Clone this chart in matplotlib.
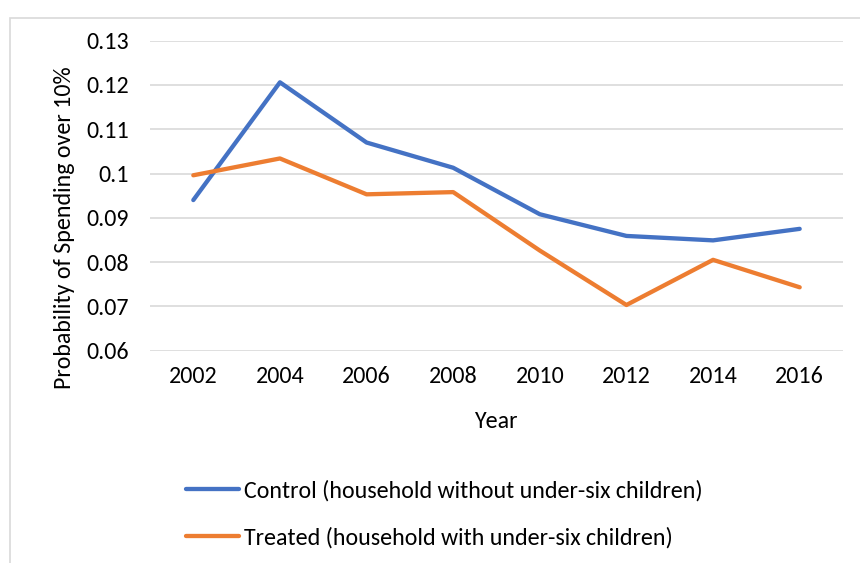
import matplotlib
matplotlib.use("Agg")
import matplotlib.pyplot as plt
from matplotlib import font_manager
from matplotlib.patches import Rectangle

years = ["2002", "2004", "2006", "2008", "2010", "2012", "2014", "2016"]
control = [0.0940, 0.1206, 0.1070, 0.1013, 0.0908, 0.0859, 0.0849, 0.0875]
treated = [0.0996, 0.1034, 0.0953, 0.0958, 0.0826, 0.0703, 0.0805, 0.0743]
y_ticks = [0.06, 0.07, 0.08, 0.09, 0.10, 0.11, 0.12, 0.13]
y_tick_labels = ["0.06", "0.07", "0.08", "0.09", "0.1", "0.11", "0.12", "0.13"]

available = {f.name for f in font_manager.fontManager.ttflist}
family = "Carlito" if "Carlito" in available else "Lato"
plt.rcParams["font.family"] = [family, "DejaVu Sans"]

FS = 17.3
fig = plt.figure(figsize=(8.6, 5.63), dpi=100)
ax = fig.add_axes([150 / 860, 1 - 350.6 / 563, (843 - 150) / 860, (350.6 - 40.7) / 563])

x = list(range(len(years)))
ax.plot(x, control, color="#4472C4", lw=3.1, solid_capstyle="round",
        solid_joinstyle="round", label="Control (household without under-six children)")
ax.plot(x, treated, color="#ED7D31", lw=3.1, solid_capstyle="round",
        solid_joinstyle="round", label="Treated (household with under-six children)")

ax.set_xlim(-0.5, len(years) - 0.5)
ax.set_ylim(0.06, 0.13)
ax.set_yticks(y_ticks)
ax.set_yticklabels(y_tick_labels)
ax.set_xticks(x)
ax.set_xticklabels(years)
ax.tick_params(axis="both", length=0, labelsize=FS, colors="#000000")
ax.tick_params(axis="y", pad=15)
ax.tick_params(axis="x", pad=11)
ax.grid(axis="y", color="#D9D9D9", lw=1.2)
ax.set_axisbelow(True)
for s in ax.spines.values():
    s.set_visible(False)

fig.text(65 / 860, 1 - 228 / 563, "Probability of Spending over 10%",
         rotation=90, ha="center", va="center", fontsize=FS)
fig.text(496 / 860, 1 - 421 / 563, "Year", ha="center", va="center", fontsize=FS)

fig.legend(loc="upper left", bbox_to_anchor=(186 / 860, 1 - 480 / 563),
           frameon=False, fontsize=FS, handlelength=2.2, handletextpad=0.2,
           labelspacing=1.05, borderpad=0, borderaxespad=0)

fig.patches.append(Rectangle((10 / 860, -0.05), 1.0, 1 - 18 / 563 + 0.05,
                             transform=fig.transFigure, fill=False,
                             edgecolor="#D9D9D9", lw=1.2))

fig.savefig("out.png", dpi=100)
